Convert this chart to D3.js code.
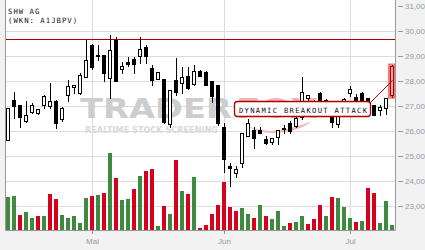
<!DOCTYPE html>
<html>
<head>
<meta charset="utf-8">
<script src="https://cdn.jsdelivr.net/npm/d3@7"></script>
<style>
  body { margin: 0; background: #f2f2f2; }
  svg { display: block; }
</style>
</head>
<body>
<div id="container"></div>
<script>
const W = 425, H = 250;
const plotLeft = 5, plotRight = 395, plotTop = 0, plotBottom = 230;

// daily OHLC, oldest first
const opens  = [25.64,27.23,27.04,26.39,26.77,26.71,27.03,27.01,27.20,26.47,27.43,27.77,27.51,28.17,29.44,29.02,29.04,28.13,29.64,28.47,28.76,28.88,29.01,29.37,28.51,28.08,28.08,26.27,28.04,27.93,28.21,27.87,28.41,28.37,28.01,27.84,26.17,24.60,24.31,24.71,25.80,26.04,26.04,25.67,25.57,25.75,26.10,26.33,26.20,26.56,27.31,26.90,27.54,26.95,26.85,26.27,27.00,27.51,27.35,27.52,27.30,27.04,26.84,26.92,27.44];
const highs  = [26.92,27.57,27.06,27.21,27.11,26.89,27.44,27.93,27.25,26.97,28.04,27.86,28.31,29.64,29.46,29.44,29.06,29.84,29.75,28.77,28.97,28.96,29.75,29.44,28.64,28.36,28.09,27.65,28.91,28.57,28.57,28.64,28.43,28.39,28.02,27.85,26.31,24.71,24.60,25.91,26.47,26.17,26.17,25.80,25.71,26.04,26.24,26.40,26.55,28.17,27.44,27.25,27.56,27.26,26.90,26.80,27.30,27.79,27.50,27.55,27.32,27.05,27.04,27.31,28.62];
const lows   = [25.62,26.51,26.17,26.38,26.71,26.70,26.91,26.91,26.13,26.41,27.21,27.51,27.50,28.16,28.48,28.84,28.01,27.33,28.00,28.31,28.61,28.33,28.71,28.71,27.84,28.07,26.31,26.15,27.44,27.51,27.70,27.84,28.19,27.83,27.17,26.24,24.37,23.81,24.15,24.55,25.80,25.31,25.91,25.48,25.48,25.48,25.93,25.91,26.15,26.50,26.90,26.80,27.10,26.90,26.17,26.17,26.95,27.40,27.10,27.10,27.05,26.64,26.64,26.70,27.37];
const closes = [26.91,27.01,26.57,26.63,27.04,26.88,27.39,27.20,26.33,26.91,27.80,27.84,28.24,28.84,28.57,29.04,28.33,29.24,28.01,28.60,28.68,28.67,29.28,29.01,28.04,28.35,26.37,27.64,27.55,28.17,27.71,28.41,28.21,27.84,27.41,26.31,24.87,24.51,24.50,25.91,26.31,25.71,25.91,25.53,25.71,26.04,26.12,26.01,26.51,27.55,27.44,27.20,27.16,27.24,26.37,26.76,27.27,27.67,27.15,27.24,27.12,26.64,26.95,27.31,28.60];
// volume, thousand shares
const volumes = [33,34,15,18,12,14,14,36,31,15,12,14,7,32,34,35,37,77,52,30,31,41,54,59,61,4,24,16,70,39,36,53,2,5,16,25,48,23,19,22,16,12,25,14,11,19,4,7,8,14,6,11,25,14,33,32,23,12,8,9,42,37,7,29,5];

const priceTicks = [23,24,25,26,27,28,29,30,31];
const monthTicks = [14,36,57];
const monthLabels = ["Mai","Jun","Jul"];
const resistance = 29.67;
const stockName = "SHW AG";
const stockId = "(WKN: A1JBPV)";
const signalText = "DYNAMIC BREAKOUT ATTACK";

const green = "#3e8a3f", red = "#d6001c", darkRed = "#b00000";

const svg = d3.select('#container')
    .append('svg')
    .attr('width', W)
    .attr('height', H);

svg.append('rect').attr('width', W).attr('height', H).attr('fill', '#f2f2f2');
svg.append('rect')
    .attr('x', plotLeft).attr('y', plotTop)
    .attr('width', plotRight - plotLeft).attr('height', plotBottom - plotTop)
    .attr('fill', '#fff');

const idx = d3.range(closes.length);
const x = d3.scaleBand()
    .domain(idx)
    .range([plotLeft, plotRight])
    .paddingInner(1 / 3)
    .paddingOuter(1 / 6);
const y = d3.scaleLinear().domain([23, 31]).range([206, 6]);
const vy = d3.scaleLinear().domain([0, 100]).range([plotBottom, plotBottom - 100]);

const snap = v => Math.round(v) + 0.5;

// grid
svg.append('g')
    .selectAll('line')
    .data(priceTicks.filter(d => d < 31))
    .join('line')
    .attr('x1', plotLeft).attr('x2', plotRight)
    .attr('y1', d => snap(y(d))).attr('y2', d => snap(y(d)))
    .attr('stroke', '#dcdcdc');
svg.append('g')
    .selectAll('line')
    .data(monthTicks)
    .join('line')
    .attr('x1', d => x(d) + 2.5).attr('x2', d => x(d) + 2.5)
    .attr('y1', plotTop).attr('y2', plotBottom)
    .attr('stroke', '#dcdcdc');

// watermark
const wm = svg.append('g');
wm.append('path')
    .attr('d', 'M238,119 Q262,142 312,121 Q300,131 275,133 Q252,133 238,119 Z M262,112 Q290,96 322,103 Q298,104 280,116 Z')
    .attr('fill', '#f4b4b6');
wm.append('text')
    .attr('x', 236).attr('y', 118)
    .attr('font-family', 'DejaVu Sans').attr('font-weight', 'bold')
    .attr('font-size', 27)
    .attr('textLength', 82).attr('lengthAdjust', 'spacingAndGlyphs')
    .attr('fill', '#f4b4b6')
    .text('FOX');
wm.append('text')
    .attr('x', 80).attr('y', 118)
    .attr('font-family', 'DejaVu Sans').attr('font-weight', 'bold')
    .attr('font-size', 27)
    .attr('textLength', 152).attr('lengthAdjust', 'spacingAndGlyphs')
    .attr('fill', '#cdcdcd')
    .text('TRADER');
wm.append('text')
    .attr('x', 85).attr('y', 133)
    .attr('font-family', 'DejaVu Sans').attr('font-weight', 'bold')
    .attr('font-size', 8)
    .attr('textLength', 133).attr('lengthAdjust', 'spacingAndGlyphs')
    .attr('fill', '#dadada')
    .text('REALTIME STOCK SCREENING');

// volume
svg.append('g')
    .selectAll('rect')
    .data(idx)
    .join('rect')
    .attr('x', i => x(i))
    .attr('width', x.bandwidth())
    .attr('y', i => vy(volumes[i]))
    .attr('height', i => plotBottom - vy(volumes[i]))
    .attr('fill', i => (i === 0 || closes[i] >= closes[i - 1]) ? green : red);

// resistance line
svg.append('line')
    .attr('x1', plotLeft).attr('x2', plotRight)
    .attr('y1', snap(y(resistance))).attr('y2', snap(y(resistance)))
    .attr('stroke', darkRed).attr('stroke-width', 1);

// candles
const last = closes.length - 1;
svg.append('rect')
    .attr('x', x(last) - 2).attr('width', 7.5)
    .attr('y', y(highs[last]) - 2)
    .attr('height', y(lows[last]) - y(highs[last]) + 4)
    .attr('fill', '#f07a7c');

const candles = svg.append('g')
    .selectAll('g')
    .data(idx)
    .join('g');
candles.append('line')
    .attr('x1', i => x(i) + 2.5).attr('x2', i => x(i) + 2.5)
    .attr('y1', i => Math.round(y(highs[i])))
    .attr('y2', i => Math.round(y(lows[i])) + 1)
    .attr('stroke', i => i === last ? darkRed : '#000');
candles.append('rect')
    .attr('x', i => x(i) + 0.5)
    .attr('width', x.bandwidth() - 1)
    .attr('y', i => snap(y(Math.max(opens[i], closes[i]))))
    .attr('height', i => Math.max(1, Math.round(y(Math.min(opens[i], closes[i]))) - Math.round(y(Math.max(opens[i], closes[i])))))
    .attr('fill', i => i === last ? '#f7a9aa' : (closes[i] >= opens[i] ? '#fff' : '#000'))
    .attr('stroke', i => i === last ? darkRed : '#000');

// signal label
const sx = x(last) + 2.5, sy = y((opens[last] + closes[last]) / 2);
svg.append('line')
    .attr('x1', 370).attr('y1', 103)
    .attr('x2', sx).attr('y2', sy)
    .attr('stroke', darkRed).attr('stroke-width', 1);
svg.append('rect')
    .attr('x', 234.5).attr('y', 101.5)
    .attr('width', 136).attr('height', 15)
    .attr('rx', 3)
    .attr('fill', '#fff')
    .attr('stroke', darkRed).attr('stroke-width', 1.3);
svg.append('text')
    .attr('x', 239).attr('y', 112.5)
    .attr('font-family', 'DejaVu Sans Mono')
    .attr('font-size', 7.2)
    .attr('textLength', 128).attr('lengthAdjust', 'spacing')
    .attr('fill', '#111')
    .text(signalText);

// name
svg.append('text')
    .attr('x', 8).attr('y', 14)
    .attr('font-family', 'DejaVu Sans Mono').attr('font-size', 7.3)
    .attr('letter-spacing', 1)
    .attr('fill', '#111')
    .text(stockName);
svg.append('text')
    .attr('x', 8).attr('y', 23)
    .attr('font-family', 'DejaVu Sans Mono').attr('font-size', 7.3)
    .attr('letter-spacing', 1)
    .attr('fill', '#111')
    .text(stockId);

// axes
const fmt = d3.formatLocale({ decimal: ",", thousands: ".", grouping: [3], currency: ["", "€"] }).format(".2f");

const yAxis = svg.append('g')
    .attr('transform', `translate(${plotRight},0)`)
    .call(d3.axisRight(y).tickValues(priceTicks).tickFormat(fmt).tickSize(8).tickPadding(2));
yAxis.select('.domain').remove();
yAxis.selectAll('.tick line').attr('x1', 3).attr('stroke', '#999');
yAxis.selectAll('text')
    .attr('fill', '#999')
    .attr('font-family', 'Liberation Sans')
    .attr('font-size', 8);

const xAxis = svg.append('g')
    .attr('transform', `translate(0,${plotBottom})`)
    .call(d3.axisBottom(x).tickValues(monthTicks).tickFormat((d, i) => monthLabels[i]).tickSize(4).tickPadding(4));
xAxis.select('.domain').remove();
xAxis.selectAll('.tick').attr('transform', d => `translate(${x(d) + 2.5},0)`);
xAxis.selectAll('.tick line').attr('stroke', '#999');
xAxis.selectAll('text')
    .attr('fill', '#999')
    .attr('font-family', 'Liberation Sans')
    .attr('font-size', 8);

// frame
svg.append('path')
    .attr('d', `M${plotLeft + 0.5},${plotTop}V${plotBottom + 0.5}H${plotRight + 0.5}V${plotTop}`)
    .attr('fill', 'none')
    .attr('stroke', '#999');
</script>
</body>
</html>
